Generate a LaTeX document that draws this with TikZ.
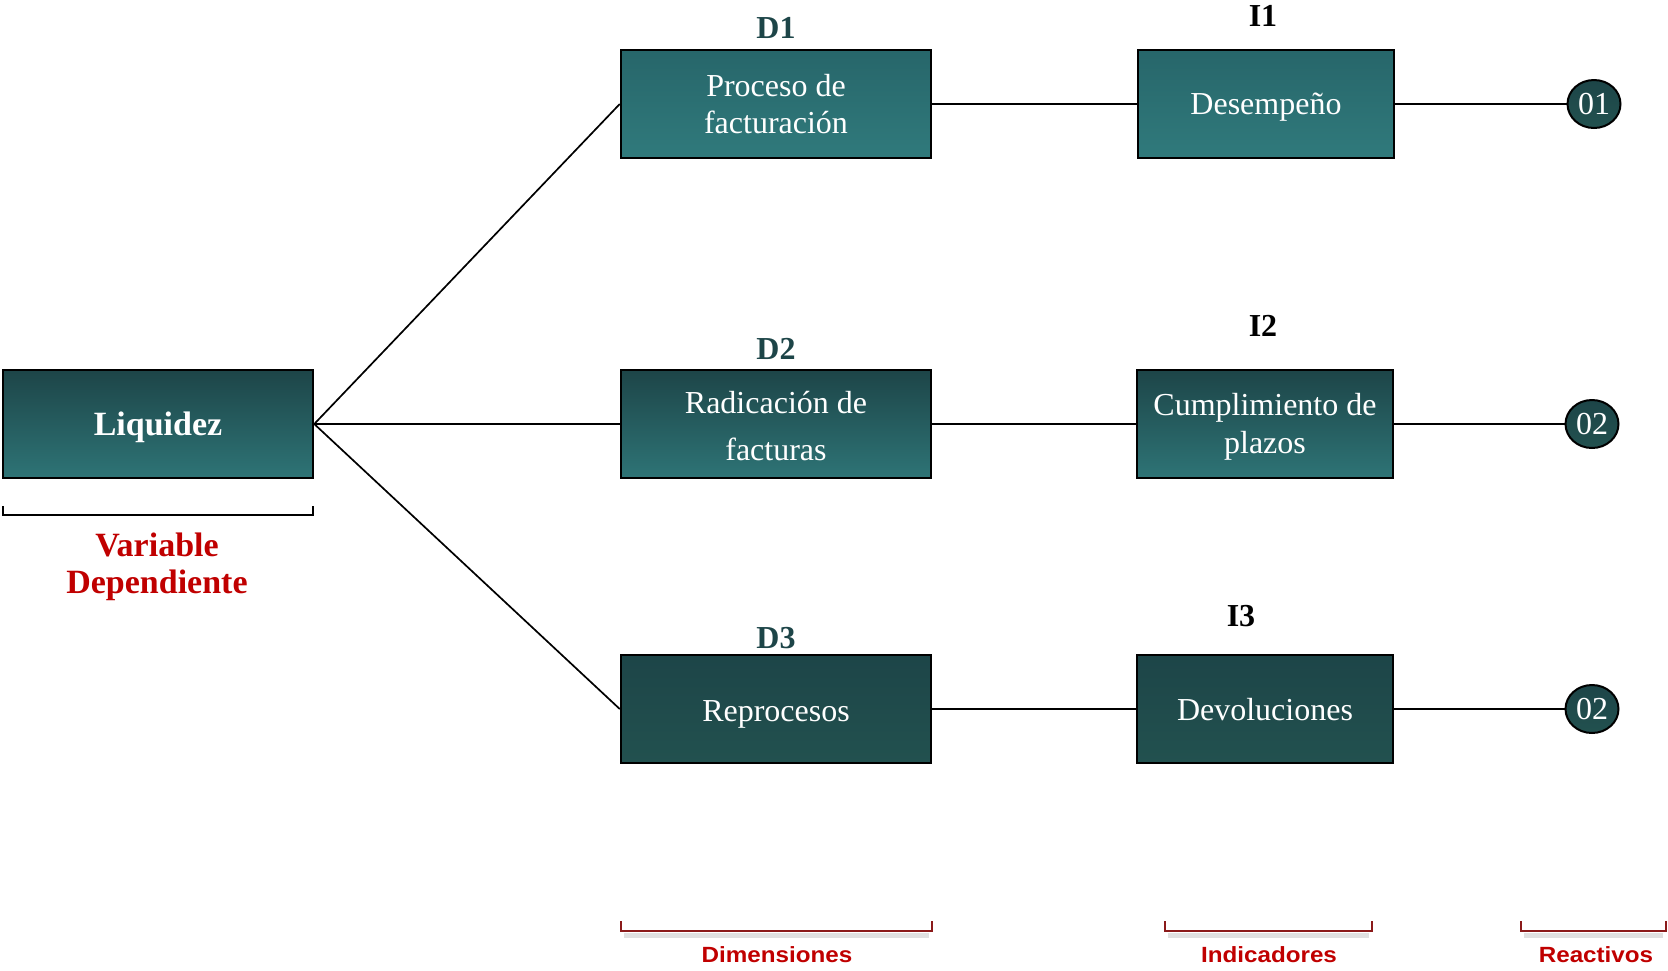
\documentclass[tikz,border=0pt]{standalone}
\usepackage{fontspec}
\setmainfont{Liberation Serif}
\newfontfamily\labsans[FakeStretch=1.1]{Liberation Sans}
\usetikzlibrary{shapes.geometric}
\definecolor{tealDark}{HTML}{1D4548}
\definecolor{tealMid}{HTML}{2E7476}
\definecolor{tealTop}{HTML}{27666A}
\definecolor{tealBot}{HTML}{307A7C}
\definecolor{tealD3b}{HTML}{22514F}
\definecolor{redText}{HTML}{C00000}
\definecolor{bracketRed}{HTML}{8B1A1A}
\newcommand{\lowr}[2]{\raisebox{-#1pt}[\height][\depth]{#2}}
\tikzset{
  boxbase/.style={draw=black, line width=2.5pt, text=white, align=center, inner sep=0pt,
    font=\fontsize{32}{37}\selectfont},
  boxgrad/.style={boxbase, top color=tealDark, bottom color=tealMid},
  boxlight/.style={boxbase, top color=tealTop, bottom color=tealBot},
  boxdark/.style={boxbase, top color=tealDark, bottom color=tealD3b},
  itemnode/.style={ellipse, draw=black, line width=2pt, top color=tealDark, bottom color=tealD3b,
    text=white, inner sep=0pt, minimum width=53pt, minimum height=48pt, font=\fontsize{32}{32}\selectfont},
  dlabel/.style={text=tealDark, font=\fontsize{32}{32}\selectfont\bfseries},
  ilabel/.style={text=black, font=\fontsize{32}{32}\selectfont\bfseries},
  conn/.style={draw=black, line width=2.4pt},
  fan/.style={draw=black, line width=1.7pt},
  redlab/.style={text=redText, font=\fontsize{34}{37}\selectfont\bfseries, align=center},
  botlab/.style={text=redText, font=\labsans\fontsize{22}{26}\selectfont\bfseries},
  brk/.style={draw=bracketRed, line width=2.2pt},
  brkshadow/.style={draw=black, opacity=0.12, line width=5pt},
}
\begin{document}
\begin{tikzpicture}[x=1pt,y=-1pt]
\useasboundingbox (0,0) rectangle (1668,970);
% main boxes
\node[boxgrad, minimum width=310pt, minimum height=108pt, font=\fontsize{34}{37}\selectfont\bfseries] (liq) at (158,424) {\lowr{3}{Liquidez}};
\node[boxlight, minimum width=310pt, minimum height=108pt] (d1) at (776,104) {Proceso de\\facturación};
\node[boxgrad, minimum width=310pt, minimum height=108pt, font=\fontsize{32}{47}\selectfont] (d2) at (776,424) {\lowr{2}{Radicación de}\\\lowr{2}{facturas}};
\node[boxdark, minimum width=310pt, minimum height=108pt] (d3) at (776,709) {\lowr{5}{Reprocesos}};
\node[boxlight, minimum width=256pt, minimum height=108pt] (i1) at (1266,104) {\lowr{3}{Desempeño}};
\node[boxgrad, minimum width=256pt, minimum height=108pt, font=\fontsize{32}{38}\selectfont] (i2) at (1265,424) {\lowr{3}{Cumplimiento de}\\\lowr{3}{plazos}};
\node[boxdark, minimum width=256pt, minimum height=108pt] (i3) at (1265,709) {\lowr{1}{Devoluciones}};
% item circles
\node[itemnode] (c1) at (1594,104) {01};
\node[itemnode] (c2) at (1592,424) {02};
\node[itemnode] (c3) at (1592,709) {02};
% labels
\node[dlabel] (ld1) at (776,28) {D1};
\node[dlabel] (ld2) at (776,349) {D2};
\node[dlabel] (ld3) at (776,638) {D3};
\node[ilabel] (li1) at (1263,16) {I1};
\node[ilabel] (li2) at (1263,326) {I2};
\node[ilabel] (li3) at (1241,616) {I3};
% connectors
\draw[fan] (liq.east) -- (d1.west);
\draw[fan] (liq.east) -- (d2.west);
\draw[fan] (liq.east) -- (d3.west);
\draw[conn] (d1.east) -- (i1.west);
\draw[conn] (d2.east) -- (i2.west);
\draw[conn] (d3.east) -- (i3.west);
\draw[conn] (i1.east) -- (c1.west);
\draw[conn] (i2.east) -- (c2.west);
\draw[conn] (i3.east) -- (c3.west);
% variable bracket
\coordinate (vb1) at (3,506);
\coordinate (vb2) at (313,506);
\draw[draw=black, line width=2pt] (vb1) -- ++(0,9) -- ([yshift=-9pt]vb2) -- (vb2);
\node[redlab] (var) at (157,567) {Variable\\Dependiente};
% bottom brackets
\coordinate (bd1) at (621,921);
\coordinate (bd2) at (932,921);
\coordinate (bi1) at (1165,921);
\coordinate (bi2) at (1372,921);
\coordinate (br1) at (1521,921);
\coordinate (br2) at (1666,921);
\foreach \a/\b in {bd1/bd2,bi1/bi2,br1/br2}{
  \draw[brkshadow] ([xshift=3pt,yshift=-14pt]\a) -- ([xshift=-3pt,yshift=-14pt]\b);
  \draw[brk] (\a) -- ++(0,10) -- ([yshift=-10pt]\b) -- (\b);
}
\node[botlab] (ldim) at (777,955) {Dimensiones};
\node[botlab] (lind) at (1269,955) {Indicadores};
\node[botlab] (lrea) at (1596,955) {Reactivos};
\end{tikzpicture}
\end{document}
